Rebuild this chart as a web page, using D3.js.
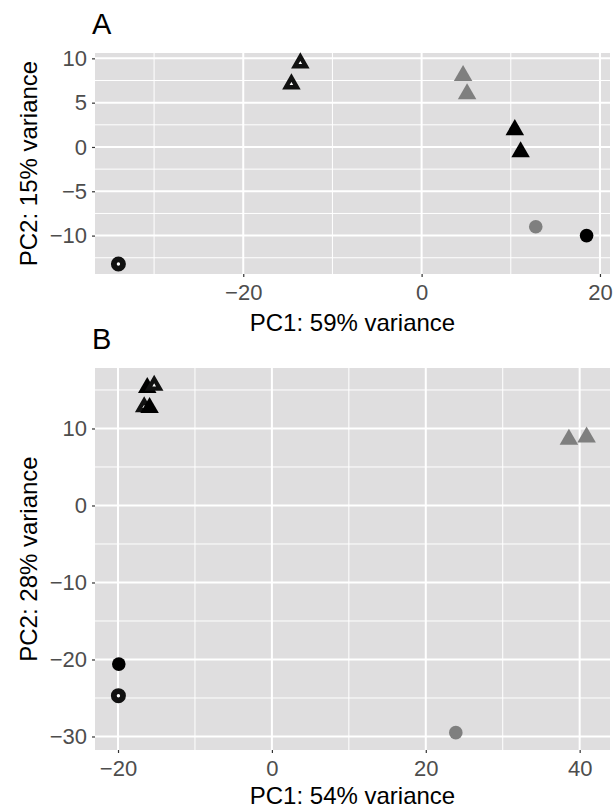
<!DOCTYPE html>
<html>
<head>
<meta charset="utf-8">
<script src="https://cdn.jsdelivr.net/npm/d3@7/dist/d3.min.js"></script>
<style>
  body { margin: 0; background: #fff; }
  svg { display: block; }
  text { font-family: "Liberation Sans", Arial, sans-serif; }
</style>
</head>
<body>
<div id="chart"></div>
<script>
// Panel A values (PC1 / PC2 per sample)
const pc1A = [-13.6, -14.6, 4.65, 5.1, 10.45, 11.1, -34.0, 12.8, 18.5];
const pc2A = [9.47, 7.1, 8.04, 5.99, 1.94, -0.56, -13.2, -9.0, -10.0];
const groupA = ["G3", "G3", "G2", "G2", "G1", "G1", "G3", "G2", "G1"];
const typeA = ["T1", "T1", "T1", "T1", "T1", "T1", "T2", "T2", "T2"];

// Panel B values
const pc1B = [-16.2, -15.3, -16.6, -15.9, 38.6, 40.9, -19.95, -19.9, 23.9];
const pc2B = [15.3, 15.6, 12.8, 12.7, 8.57, 8.88, -24.7, -20.6, -29.5];
const groupB = ["G1", "G3", "G3", "G1", "G2", "G2", "G3", "G1", "G2"];
const typeB = ["T1", "T1", "T1", "T1", "T1", "T1", "T2", "T2", "T2"];

// ticks
const xTicksA = [-20, 0, 20];
const yTicksA = [-10, -5, 0, 5, 10];
const xTicksB = [-20, 0, 20, 40];
const yTicksB = [-30, -20, -10, 0, 10];

const panelLetters = ["A", "B"];
const xTitles = ["PC1: 59% variance", "PC1: 54% variance"];
const yTitles = ["PC2: 15% variance", "PC2: 28% variance"];

const width = 615, height = 811;

const svg = d3.select('#chart').append('svg')
  .attr('width', width)
  .attr('height', height);

const fillColor = d3.scaleOrdinal().domain(["G1", "G2", "G3"]).range(["#000000", "#7f7f7f", "#ffffff"]);

// ggplot style: 5% expansion on each side of the data range
function expand(vals) {
  const ext = d3.extent(vals);
  const pad = (ext[1] - ext[0]) * 0.05;
  return [ext[0] - pad, ext[1] + pad];
}

// minor gridlines halfway between the breaks
function minors(ticks, domain) {
  const step = ticks[1] - ticks[0];
  const out = [];
  for (let i = -1; i < ticks.length; i++) {
    const m = ticks[0] + step * i + step / 2;
    if (m > domain[0] && m < domain[1]) out.push(m);
  }
  return out;
}

function triangle(R) {
  // d3 symbol size from circumradius
  return d3.symbol(d3.symbolTriangle, 3 * Math.sqrt(3) * R * R / 4)();
}

function drawPanel(p) {
  const x = d3.scaleLinear().domain(expand(p.xs)).range([p.left, p.right]);
  const y = d3.scaleLinear().domain(expand(p.ys)).range([p.bottom, p.top]);

  const g = svg.append('g');

  g.append('rect')
    .attr('x', p.left).attr('y', p.top)
    .attr('width', p.right - p.left).attr('height', p.bottom - p.top)
    .attr('fill', '#dfdedf');

  // minor grid
  g.selectAll('.vminor').data(minors(p.xTicks, x.domain())).enter().append('line')
    .attr('x1', d => x(d)).attr('x2', d => x(d))
    .attr('y1', p.top).attr('y2', p.bottom)
    .attr('stroke', '#fff').attr('stroke-width', 1);
  g.selectAll('.hminor').data(minors(p.yTicks, y.domain())).enter().append('line')
    .attr('y1', d => y(d)).attr('y2', d => y(d))
    .attr('x1', p.left).attr('x2', p.right)
    .attr('stroke', '#fff').attr('stroke-width', 1);

  // major grid
  g.selectAll('.vmajor').data(p.xTicks).enter().append('line')
    .attr('x1', d => x(d)).attr('x2', d => x(d))
    .attr('y1', p.top).attr('y2', p.bottom)
    .attr('stroke', '#fff').attr('stroke-width', 2);
  g.selectAll('.hmajor').data(p.yTicks).enter().append('line')
    .attr('y1', d => y(d)).attr('y2', d => y(d))
    .attr('x1', p.left).attr('x2', p.right)
    .attr('stroke', '#fff').attr('stroke-width', 2);

  // axes
  const xAxis = g.append('g')
    .attr('transform', `translate(0,${p.bottom})`)
    .call(d3.axisBottom(x).tickValues(p.xTicks).tickSize(3).tickPadding(7).tickFormat(d3.format('d')));
  const yAxis = g.append('g')
    .attr('transform', `translate(${p.left},0)`)
    .call(d3.axisLeft(y).tickValues(p.yTicks).tickSize(3).tickPadding(5).tickFormat(d3.format('d')));
  [xAxis, yAxis].forEach(a => {
    a.select('.domain').remove();
    a.selectAll('line').attr('stroke', '#333').attr('stroke-width', 1.2);
    a.selectAll('text').attr('fill', '#4d4d4d').style('font-size', '22px');
  });

  // points
  const data = p.xs.map((v, i) => ({x: v, y: p.ys[i], group: p.groups[i], type: p.types[i]}));
  const pts = g.append('g').selectAll('g').data(data).enter().append('g')
    .attr('transform', d => `translate(${x(d.x)},${y(d.y)})`);

  pts.each(function(d) {
    const s = d3.select(this);
    const open = d.group === "G3";
    if (d.type === "T2") {
      s.append('circle')
        .attr('r', open ? 4.6 : 6.8)
        .attr('fill', fillColor(d.group))
        .attr('stroke', open ? '#111' : 'none')
        .attr('stroke-width', 5.8);
    } else if (open) {
      // thick outline leaving a small white hole in the middle
      s.append('path')
        .attr('d', triangle(6.4))
        .attr('fill', '#fff')
        .attr('stroke', '#111')
        .attr('stroke-width', 4.3)
        .attr('stroke-linejoin', 'miter');
    } else {
      s.append('path')
        .attr('d', triangle(10.7))
        .attr('fill', fillColor(d.group));
    }
  });

  // titles
  g.append('text')
    .attr('x', (p.left + p.right) / 2).attr('y', p.bottom + p.titleGap)
    .attr('text-anchor', 'middle')
    .style('font-size', '24px').attr('fill', '#000')
    .text(p.xTitle);
  g.append('text')
    .attr('transform', `translate(37,${(p.top + p.bottom) / 2}) rotate(-90)`)
    .attr('text-anchor', 'middle')
    .style('font-size', '24px').attr('fill', '#000')
    .text(p.yTitle);
  g.append('text')
    .attr('x', 92).attr('y', p.top - 19)
    .style('font-size', '29px').attr('fill', '#000')
    .text(p.letter);
}

drawPanel({letter: panelLetters[0], xs: pc1A, ys: pc2A, groups: groupA, types: typeA,
  xTicks: xTicksA, yTicks: yTicksA, xTitle: xTitles[0], yTitle: yTitles[0],
  left: 95, right: 610, top: 53, bottom: 274, titleGap: 57});

drawPanel({letter: panelLetters[1], xs: pc1B, ys: pc2B, groups: groupB, types: typeB,
  xTicks: xTicksB, yTicks: yTicksB, xTitle: xTitles[1], yTitle: yTitles[1],
  left: 95, right: 610, top: 368, bottom: 750, titleGap: 54});
</script>
</body>
</html>
